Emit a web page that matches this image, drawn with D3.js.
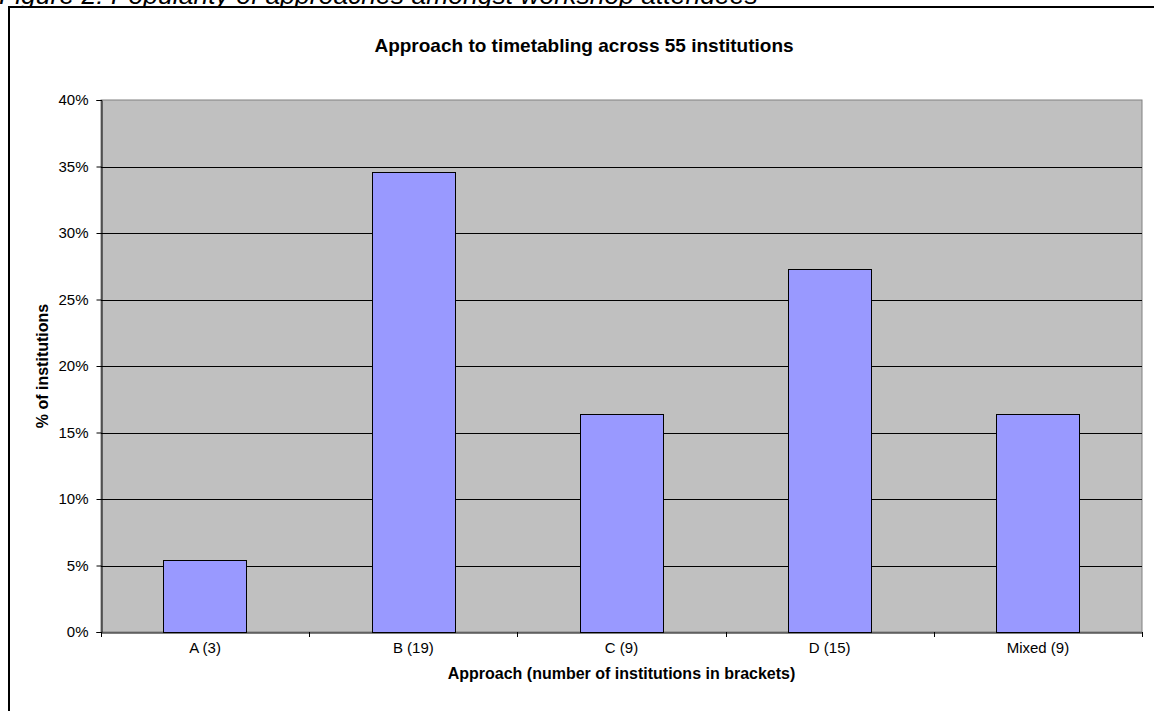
<!DOCTYPE html>
<html><head><meta charset="utf-8">
<script src="https://cdn.jsdelivr.net/npm/d3@7"></script>
<style>body{margin:0;background:#fff;} svg{display:block;font-family:"Liberation Sans",Arial,sans-serif;}</style>
</head><body>
<svg id="c" width="1154" height="711"></svg>
<script>
const categories = ["A (3)", "B (19)", "C (9)", "D (15)", "Mixed (9)"];
const values = [5.45, 34.55, 16.36, 27.27, 16.36];
const yTicks = [0, 5, 10, 15, 20, 25, 30, 35, 40];
const chartTitle = "Approach to timetabling across 55 institutions";
const xTitle = "Approach (number of institutions in brackets)";
const yTitle = "% of institutions";
const caption = "Figure 2: Popularity of approaches amongst workshop attendees";

const svg = d3.select("#c");
const L = 101, R = 1142, T = 100, B = 632;

// caption (cut off at top, as in the reference)
svg.append("text").attr("x", -1).attr("y", 4).attr("font-size", 26.5).attr("font-style", "italic")
  .attr("fill", "#000").text(caption);

// frame
svg.append("rect").attr("x", 9).attr("y", 7).attr("width", 1150).attr("height", 720)
  .attr("fill", "#fff").attr("stroke", "#000").attr("stroke-width", 2);

const x = d3.scaleBand().domain(categories).range([L, R]).paddingInner(0.6).paddingOuter(0.3);
const xCat = d3.scaleBand().domain(categories).range([L, R]);
const y = d3.scaleLinear().domain([0, 40]).range([B, T]);

svg.append("rect").attr("x", L).attr("y", T).attr("width", R - L).attr("height", B - T)
  .attr("fill", "#C0C0C0").attr("stroke", "#808080").attr("stroke-width", 1);

// gridlines
svg.append("g").selectAll("line").data(yTicks.filter(d => d > 0 && d < 40)).join("line")
  .attr("x1", L).attr("x2", R).attr("y1", d => Math.round(y(d)) + 0.5).attr("y2", d => Math.round(y(d)) + 0.5)
  .attr("stroke", "#000").attr("stroke-width", 1);

// bars
svg.append("g").selectAll("rect").data(values).join("rect")
  .attr("x", (d, i) => Math.round(x(categories[i])) + 0.5)
  .attr("y", d => Math.round(y(d)) + 0.5)
  .attr("width", Math.round(x.bandwidth()))
  .attr("height", d => Math.round(B - y(d)))
  .attr("fill", "#9999FF").attr("stroke", "#000").attr("stroke-width", 1);

// y axis
const yAxis = d3.axisLeft(y).tickValues(yTicks).tickFormat(d => d + "%").tickSize(5).tickPadding(8);
const gy = svg.append("g").attr("transform", `translate(${L + 0.5},0)`).call(yAxis);
gy.select(".domain").attr("stroke", "#000");
gy.selectAll(".tick line").attr("stroke", "#000");
gy.selectAll("text").attr("font-size", 15).attr("fill", "#000").attr("font-family", "Liberation Sans, Arial, sans-serif");

// x axis
const xAxis = d3.axisBottom(xCat).tickSize(0).tickPadding(10);
const gx = svg.append("g").attr("transform", `translate(0,${B + 0.5})`).call(xAxis);
gx.select(".domain").attr("stroke", "#000");
gx.selectAll("text").attr("font-size", 15).attr("fill", "#000").attr("font-family", "Liberation Sans, Arial, sans-serif");
// category boundary ticks
svg.append("g").selectAll("line").data(categories.concat(["end"])).join("line")
  .attr("x1", (d, i) => Math.round(L + i * xCat.step()) + 0.5)
  .attr("x2", (d, i) => Math.round(L + i * xCat.step()) + 0.5)
  .attr("y1", B).attr("y2", B + 5).attr("stroke", "#000");

// titles
svg.append("text").attr("x", 584).attr("y", 52).attr("text-anchor", "middle")
  .attr("font-size", 19).attr("font-weight", "bold").text(chartTitle);
svg.append("text").attr("x", (L + R) / 2).attr("y", 679).attr("text-anchor", "middle")
  .attr("font-size", 16).attr("font-weight", "bold").text(xTitle);
svg.append("text").attr("transform", `translate(48,${(T + B) / 2}) rotate(-90)`).attr("text-anchor", "middle")
  .attr("font-size", 16).attr("font-weight", "bold").text(yTitle);
</script>
</body></html>
